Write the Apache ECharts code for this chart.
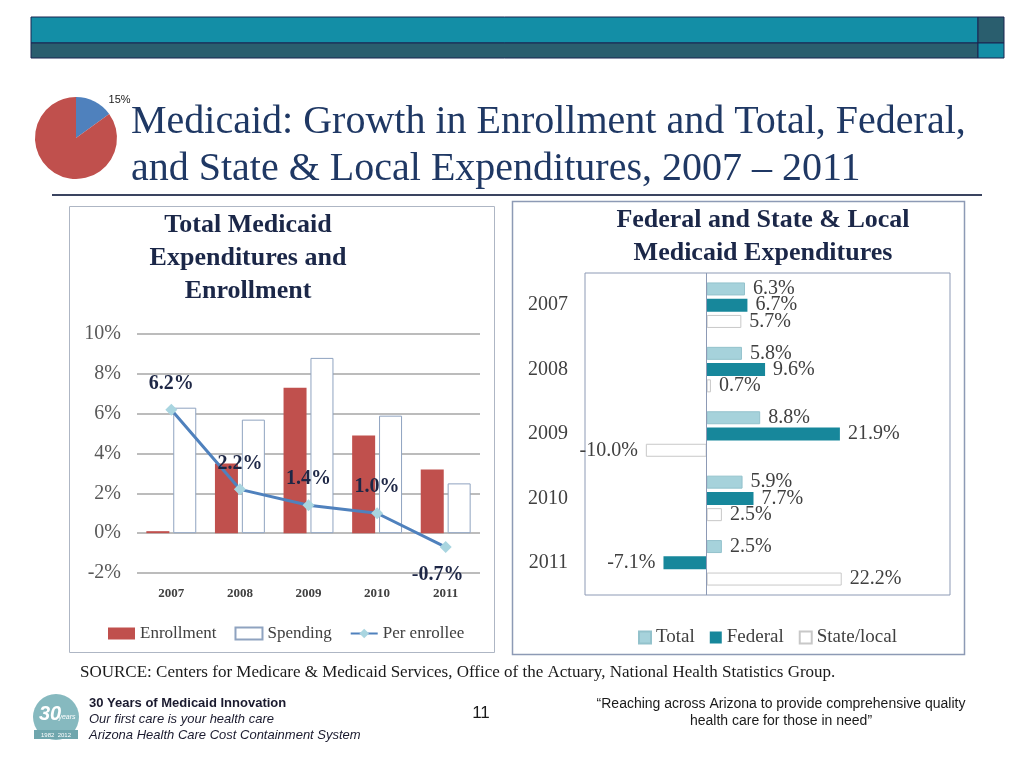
<!DOCTYPE html>
<html><head><meta charset="utf-8">
<script src="https://cdn.jsdelivr.net/npm/echarts@6/dist/echarts.min.js"></script>
<style>html,body{margin:0;padding:0;background:#fff}#c{width:1024px;height:768px}</style>
</head><body><div id="c"></div><script>
// ---- data ----
const years = ['2007', '2008', '2009', '2010', '2011'];
const enrollment = [0.1, 3.5, 7.3, 4.9, 3.2];
const spending = [6.3, 5.7, 8.8, 5.9, 2.5];
const perEnrollee = [6.2, 2.2, 1.4, 1.0, -0.7];
const totalExp = [6.3, 5.8, 8.8, 5.9, 2.5];
const federalExp = [6.7, 9.6, 21.9, 7.7, -7.1];
const stateLocalExp = [5.7, 0.7, -10.0, 2.5, 22.2];
const leftAxisMin = -2, leftAxisMax = 10, leftAxisStep = 2;
const rightAxisMin = -20, rightAxisMax = 40;
const pieShares = [15, 85];

const SERIF = "'Liberation Serif','Times New Roman',serif";
const SANS = "'Liberation Sans',Arial,sans-serif";

const chart = echarts.init(document.getElementById('c'), null, {renderer: 'canvas'});

function hbarData(arr) {
  return arr.map(v => v < 0
    ? {value: v, label: {position: 'left'}}
    : {value: v});
}
const hbarLabel = {
  show: true, position: 'right', distance: 8,
  fontFamily: SERIF, fontSize: 20, color: '#404040',
  formatter: p => p.value.toFixed(1) + '%'
};

const option = {
  animation: false,
  backgroundColor: '#ffffff',
  graphic: [
    // banner
    {type: 'rect', shape: {x: 31, y: 17, width: 947, height: 26}, style: {fill: '#138EA6', stroke: '#1B2550', lineWidth: 1}},
    {type: 'rect', shape: {x: 31, y: 43, width: 947, height: 15}, style: {fill: '#2A5E6E', stroke: '#1B2550', lineWidth: 1}},
    {type: 'rect', shape: {x: 978, y: 17, width: 26, height: 26}, style: {fill: '#2A5E6E', stroke: '#1B2550', lineWidth: 1}},
    {type: 'rect', shape: {x: 978, y: 43, width: 26, height: 15}, style: {fill: '#138EA6', stroke: '#1B2550', lineWidth: 1}},
    // title
    {type: 'text', x: 131, y: 122, style: {text: 'Medicaid: Growth in Enrollment and Total, Federal,', font: "40px " + SERIF, fill: '#1F3864', verticalAlign: 'middle'}},
    {type: 'text', x: 131, y: 169, style: {text: 'and State & Local Expenditures, 2007 \u2013 2011', font: "40px " + SERIF, fill: '#1F3864', verticalAlign: 'middle'}},
    {type: 'line', shape: {x1: 52, y1: 195, x2: 982, y2: 195}, style: {stroke: '#3A4460', lineWidth: 2}},
    // chart boxes
    {type: 'rect', shape: {x: 69.5, y: 206.5, width: 425, height: 446}, style: {fill: 'none', stroke: '#AEB6C4', lineWidth: 1}},
    {type: 'rect', shape: {x: 512.5, y: 201.5, width: 452, height: 453}, style: {fill: 'none', stroke: '#8D9AB5', lineWidth: 1.5}},
    {type: 'text', x: 248, y: 258, style: {text: 'Total Medicaid\nExpenditures and\nEnrollment', font: "bold 26px " + SERIF, fill: '#1B2748', align: 'center', verticalAlign: 'middle', lineHeight: 33}},
    {type: 'text', x: 763, y: 237, style: {text: 'Federal and State & Local\nMedicaid Expenditures', font: "bold 26px " + SERIF, fill: '#1B2748', align: 'center', verticalAlign: 'middle', lineHeight: 33}},
    // footer
    {type: 'text', x: 80, y: 673, style: {text: 'SOURCE: Centers for Medicare & Medicaid Services, Office of the Actuary, National Health Statistics Group.', font: "17px " + SERIF, fill: '#1A1A1A', verticalAlign: 'middle'}},
    {type: 'circle', shape: {cx: 56, cy: 717, r: 23}, style: {fill: '#86B9BF'}},
    {type: 'rect', shape: {x: 34, y: 730, width: 44, height: 9}, style: {fill: '#6FA6AD'}},
    {type: 'text', x: 50, y: 714, style: {text: '30', font: "italic bold 20px " + SANS, fill: '#ffffff', align: 'center', verticalAlign: 'middle'}},
    {type: 'text', x: 67, y: 717, style: {text: 'years', font: "italic 7px " + SANS, fill: '#ffffff', align: 'center', verticalAlign: 'middle'}},
    {type: 'text', x: 56, y: 735, style: {text: '1982  2012', font: "6px " + SANS, fill: '#ffffff', align: 'center', verticalAlign: 'middle'}},
    {type: 'text', x: 89, y: 703, style: {text: '30 Years of Medicaid Innovation', font: "bold 13px " + SANS, fill: '#1A1A2E', verticalAlign: 'middle'}},
    {type: 'text', x: 89, y: 719, style: {text: 'Our first care is your health care', font: "italic 13px " + SANS, fill: '#1A1A2E', verticalAlign: 'middle'}},
    {type: 'text', x: 89, y: 735, style: {text: 'Arizona Health Care Cost Containment System', font: "italic 13px " + SANS, fill: '#1A1A2E', verticalAlign: 'middle'}},
    {type: 'text', x: 481, y: 713, style: {text: '11', font: "17px " + SANS, fill: '#1A1A1A', align: 'center', verticalAlign: 'middle'}},
    {type: 'text', x: 781, y: 713, style: {text: '\u201CReaching across Arizona to provide comprehensive quality\nhealth care for those in need\u201D', font: "14px " + SANS, fill: '#1A1A1A', align: 'center', verticalAlign: 'middle', lineHeight: 17}}
  ],
  grid: [
    {left: 137, top: 334, width: 343, height: 239, show: false},
    {left: 585, top: 273, width: 365, height: 322, show: true, borderColor: '#8D9AB5', borderWidth: 1, backgroundColor: 'transparent'}
  ],
  legend: [
    {
      left: 108, top: 625, padding: 0, itemWidth: 27, itemHeight: 12, itemGap: 18,
      textStyle: {fontFamily: SERIF, fontSize: 17, color: '#404040'},
      data: [{name: 'Enrollment', icon: 'rect'}, {name: 'Spending', icon: 'rect'}, {name: 'Per enrollee'}]
    },
    {
      left: 638, top: 628, padding: 0, itemWidth: 12, itemHeight: 12, itemGap: 15,
      textStyle: {fontFamily: SERIF, fontSize: 19, color: '#404040'},
      data: [{name: 'Total', icon: 'rect'}, {name: 'Federal', icon: 'rect'}, {name: 'State/local', icon: 'rect'}]
    }
  ],
  xAxis: [
    {
      type: 'category', gridIndex: 0, data: years,
      axisLine: {show: false, onZero: false}, axisTick: {show: false},
      axisLabel: {fontFamily: SERIF, fontSize: 13, fontWeight: 'bold', color: '#404040', margin: 14}
    },
    {
      type: 'value', gridIndex: 1, min: rightAxisMin, max: rightAxisMax, interval: 20,
      axisLine: {show: false}, axisTick: {show: false}, axisLabel: {show: false}, splitLine: {show: false}
    }
  ],
  yAxis: [
    {
      type: 'value', gridIndex: 0, min: leftAxisMin, max: leftAxisMax, interval: leftAxisStep,
      axisLine: {show: false}, axisTick: {show: false},
      axisLabel: {fontFamily: SERIF, fontSize: 20, color: '#595959', margin: 16, formatter: '{value}%'},
      splitLine: {lineStyle: {color: '#A6A6A6', width: 1.5}}
    },
    {
      type: 'category', gridIndex: 1, data: years, inverse: true,
      axisLine: {show: false, onZero: false}, axisTick: {show: false},
      axisLabel: {fontFamily: SERIF, fontSize: 20, color: '#404040', margin: 17}
    }
  ],
  series: [
    {
      type: 'pie', name: 'share', center: [76, 138], radius: 41, startAngle: 90, clockwise: true,
      silent: true, legendHoverLink: false,
      data: pieShares.map((v, i) => ({
        value: v, name: 'slice' + i,
        itemStyle: {color: i === 0 ? '#4F81BD' : '#C0504D'},
        label: {show: i === 0}
      })),
      label: {position: 'outside', formatter: p => p.value + '%', fontFamily: SANS, fontSize: 11, color: '#1A1A1A', offset: [6, 0]},
      labelLine: {show: false, length: 2, length2: 2}
    },
    {
      type: 'bar', name: 'Enrollment', xAxisIndex: 0, yAxisIndex: 0, data: enrollment,
      barWidth: 23, barGap: '17%', itemStyle: {color: '#C0504D'}
    },
    {
      type: 'bar', name: 'Spending', xAxisIndex: 0, yAxisIndex: 0, data: spending,
      barWidth: 23, barGap: '17%', itemStyle: {color: '#FFFFFF', borderColor: '#8FA3C0', borderWidth: 1}
    },
    {
      type: 'line', name: 'Per enrollee', xAxisIndex: 0, yAxisIndex: 0,
      data: perEnrollee.map(v => v < 0 ? {value: v, label: {position: 'bottom', offset: [-8, 2]}} : {value: v}),
      symbol: 'diamond', symbolSize: 12, z: 5,
      lineStyle: {color: '#4F81BD', width: 3},
      itemStyle: {color: '#A9D5E0'},
      label: {show: true, position: 'top', distance: 10, fontFamily: SERIF, fontSize: 20, fontWeight: 'bold', color: '#1E2746', formatter: p => p.value.toFixed(1) + '%'}
    },
    {
      type: 'bar', name: 'Total', xAxisIndex: 1, yAxisIndex: 1, data: hbarData(totalExp),
      barWidth: 13, barGap: '25%', itemStyle: {color: '#A6D2DB', borderColor: '#93C2CC', borderWidth: 1},
      label: hbarLabel
    },
    {
      type: 'bar', name: 'Federal', xAxisIndex: 1, yAxisIndex: 1, data: hbarData(federalExp),
      barWidth: 13, barGap: '25%', itemStyle: {color: '#17879B'},
      label: hbarLabel,
      markLine: {silent: true, symbol: 'none', label: {show: false}, lineStyle: {color: '#8D9AB5', type: 'solid', width: 1}, data: [{xAxis: 0}]}
    },
    {
      type: 'bar', name: 'State/local', xAxisIndex: 1, yAxisIndex: 1, data: hbarData(stateLocalExp),
      barWidth: 13, barGap: '25%', itemStyle: {color: '#FFFFFF', borderColor: '#C8C8C8', borderWidth: 1},
      label: hbarLabel
    }
  ]
};
chart.setOption(option);
</script></body></html>
